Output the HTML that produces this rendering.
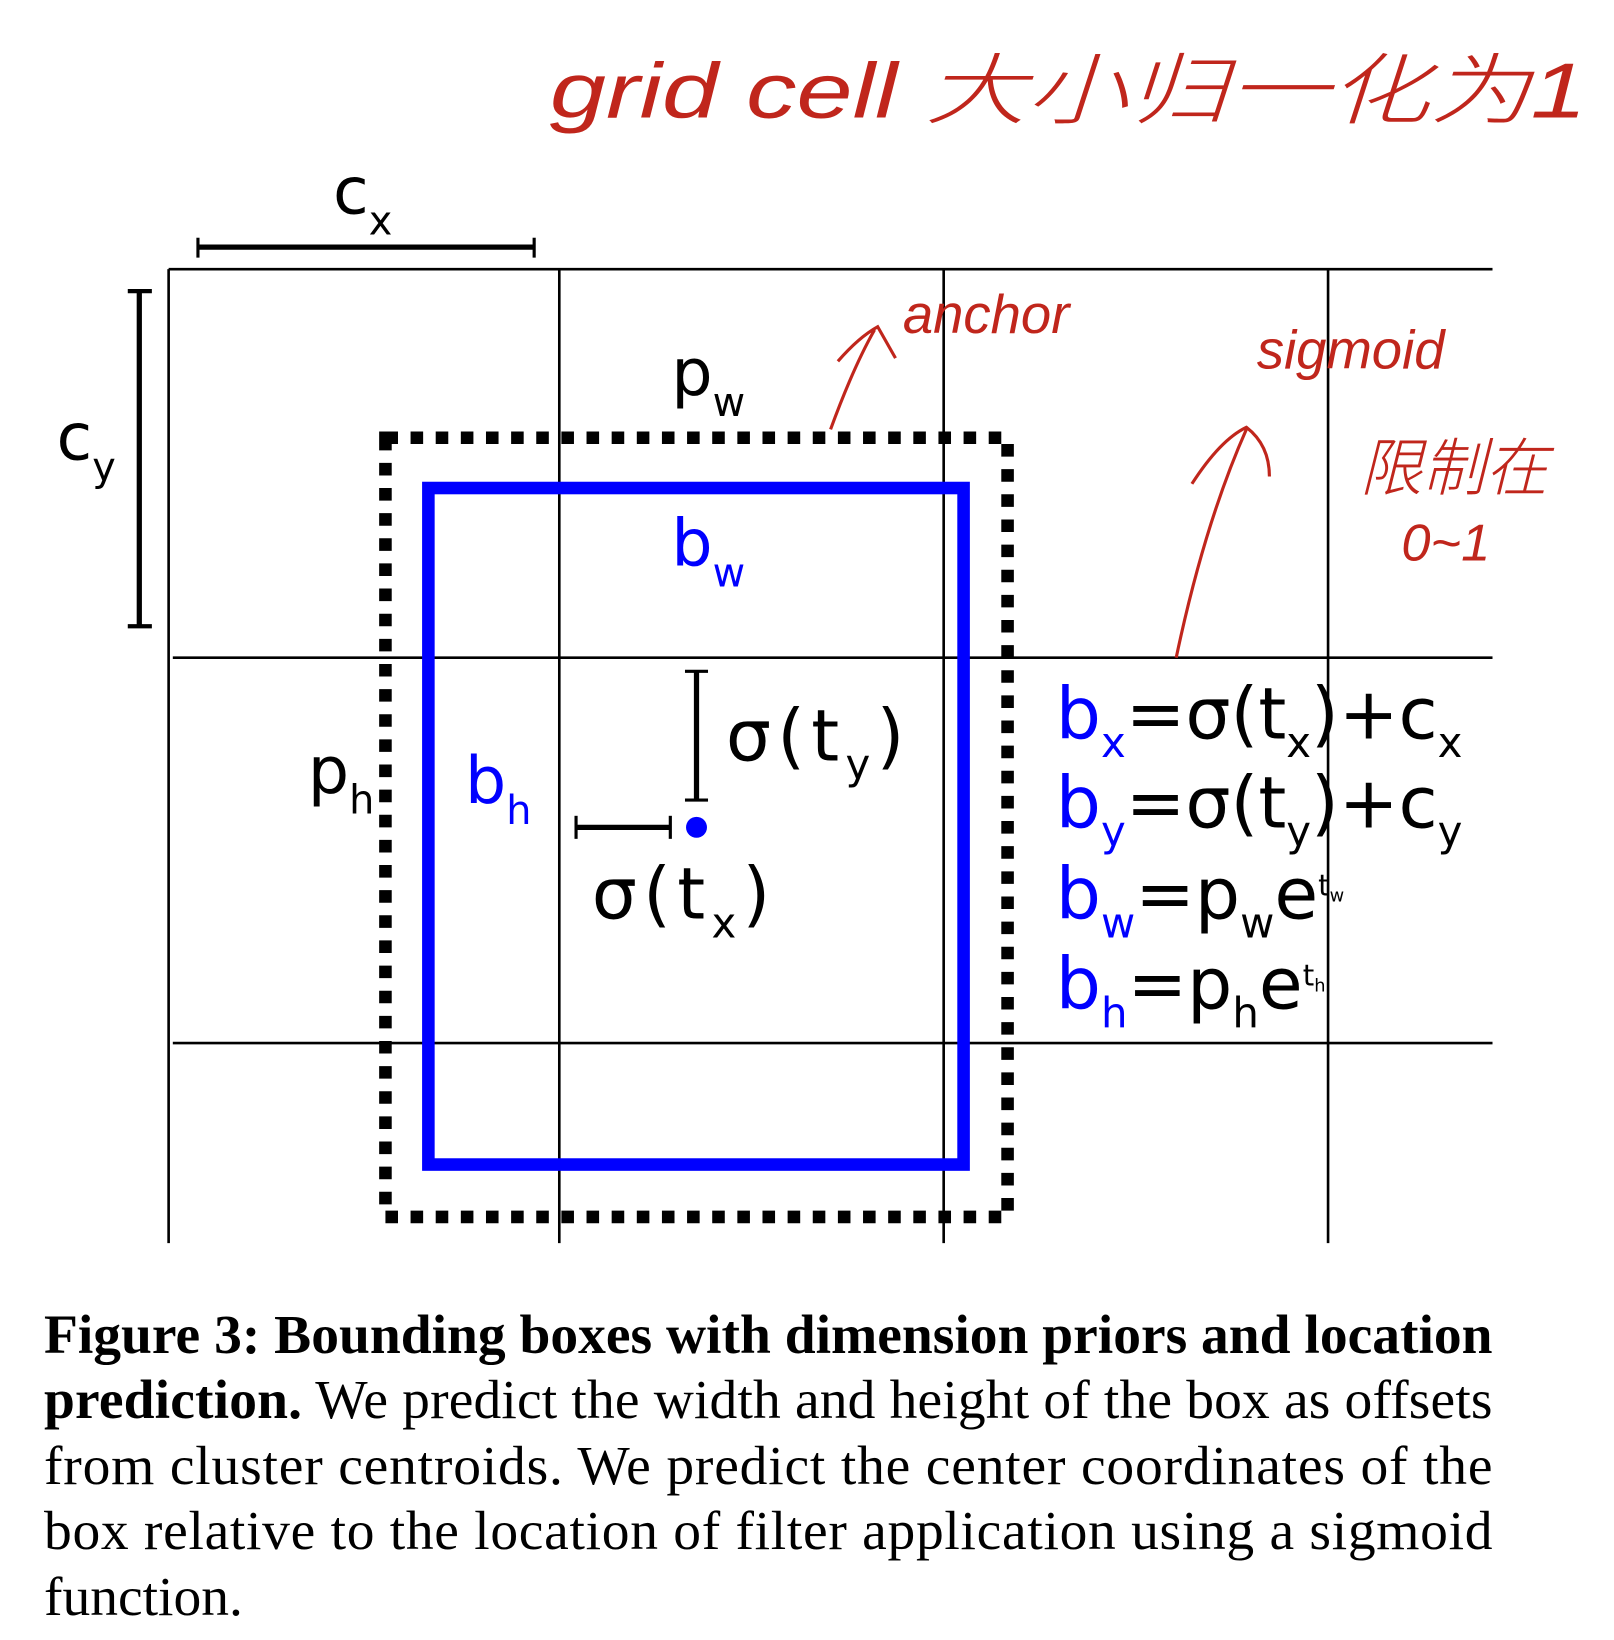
<!DOCTYPE html>
<html><head><meta charset="utf-8"><style>
html,body{margin:0;padding:0;background:#fff;}
svg{display:block;}
.m{font-family:"DejaVu Sans","Liberation Sans",sans-serif;}
.r{font-family:"Liberation Sans","Noto Sans CJK SC",sans-serif;fill:#c0261c;font-style:italic;font-weight:300;}
.c{font-family:"Liberation Serif",serif;font-size:53px;fill:#000;}
</style></head><body>
<svg width="1614" height="1640" viewBox="0 0 1541 1566" preserveAspectRatio="none">
<rect width="1541" height="1566" fill="#fff"/>
<g stroke="#000" stroke-width="2.5">
<line x1="161" y1="257" x2="1425" y2="257"/>
<line x1="165" y1="628" x2="1425" y2="628"/>
<line x1="165" y1="996" x2="1425" y2="996"/>
<line x1="161" y1="257" x2="161" y2="1187"/>
<line x1="534" y1="257" x2="534" y2="1187"/>
<line x1="901" y1="257" x2="901" y2="1187"/>
<line x1="1268" y1="257" x2="1268" y2="1187"/>
</g>
<g stroke="#000">
<line x1="189" y1="236" x2="510" y2="236" stroke-width="5"/>
<line x1="189" y1="227" x2="189" y2="246" stroke-width="3"/>
<line x1="510" y1="227" x2="510" y2="246" stroke-width="3"/>
</g>
<text class="m" x="318" y="204" font-size="62">c<tspan font-size="38" dy="20">x</tspan></text>
<g stroke="#000">
<line x1="133" y1="278" x2="133" y2="598" stroke-width="5"/>
<line x1="122" y1="278" x2="145" y2="278" stroke-width="4"/>
<line x1="122" y1="598" x2="145" y2="598" stroke-width="4"/>
</g>
<text class="m" x="54" y="439" font-size="62">c<tspan font-size="38" dy="20">y</tspan></text>
<rect x="368" y="418" width="594" height="744" fill="none" stroke="#000" stroke-width="12" stroke-dasharray="12 12"/>
<rect x="409" y="466" width="511" height="646" fill="none" stroke="#0000ff" stroke-width="12"/>
<text class="m" x="641" y="377" font-size="62">p<tspan font-size="38" dy="20">w</tspan></text>
<text class="m" x="641" y="540" font-size="62" fill="#0000ff">b<tspan font-size="38" dy="20">w</tspan></text>
<text class="m" x="294" y="757" font-size="62">p<tspan font-size="38" dy="20">h</tspan></text>
<text class="m" x="444" y="767" font-size="62" fill="#0000ff">b<tspan font-size="38" dy="20">h</tspan></text>
<g stroke="#000">
<line x1="665" y1="640" x2="665" y2="765" stroke-width="5"/>
<line x1="654" y1="641" x2="676" y2="641" stroke-width="3"/>
<line x1="654" y1="764" x2="676" y2="764" stroke-width="3"/>
</g>
<text class="m" x="693" y="726" font-size="68" letter-spacing="6">σ(t<tspan font-size="40" dy="18">y</tspan><tspan dy="-18">)</tspan></text>
<g stroke="#000">
<line x1="549" y1="790" x2="641" y2="790" stroke-width="5"/>
<line x1="550" y1="779" x2="550" y2="801" stroke-width="3"/>
<line x1="640" y1="779" x2="640" y2="801" stroke-width="3"/>
</g>
<circle cx="665" cy="790" r="10" fill="#0000ff"/>
<text class="m" x="565" y="877" font-size="68" letter-spacing="6">σ(t<tspan font-size="40" dy="18">x</tspan><tspan dy="-18">)</tspan></text>
<g class="m" font-size="68">
<text x="1008" y="705"><tspan fill="#0000ff">b</tspan><tspan fill="#0000ff" font-size="40" dy="18">x</tspan><tspan dy="-18">=σ(t</tspan><tspan font-size="40" dy="18">x</tspan><tspan dy="-18">)+c</tspan><tspan font-size="40" dy="18">x</tspan></text>
<text x="1008" y="790"><tspan fill="#0000ff">b</tspan><tspan fill="#0000ff" font-size="40" dy="18">y</tspan><tspan dy="-18">=σ(t</tspan><tspan font-size="40" dy="18">y</tspan><tspan dy="-18">)+c</tspan><tspan font-size="40" dy="18">y</tspan></text>
<text x="1008" y="877"><tspan fill="#0000ff">b</tspan><tspan fill="#0000ff" font-size="40" dy="18">w</tspan><tspan dy="-18">=p</tspan><tspan font-size="40" dy="18">w</tspan><tspan dy="-18">e</tspan><tspan font-size="28" dy="-22">t</tspan><tspan font-size="17" dy="6">w</tspan></text>
<text x="1008" y="963"><tspan fill="#0000ff">b</tspan><tspan fill="#0000ff" font-size="40" dy="18">h</tspan><tspan dy="-18">=p</tspan><tspan font-size="40" dy="18">h</tspan><tspan dy="-18">e</tspan><tspan font-size="28" dy="-22">t</tspan><tspan font-size="17" dy="6">h</tspan></text>
</g>
<g>
<text class="r" x="525" y="112" font-size="74" textLength="990" lengthAdjust="spacingAndGlyphs">grid cell 大小归一化为1</text>
<text class="r" x="862" y="318" font-size="52">anchor</text>
<path d="M793 410 Q815 350 835 315 M800 345 Q820 322 838 312 L855 342" fill="none" stroke="#c0261c" stroke-width="3"/>
<text class="r" x="1200" y="352" font-size="52">sigmoid</text>
<text class="r" x="1298" y="468" font-size="60">限制在</text>
<text class="r" x="1338" y="535" font-size="50">0~1</text>
<path d="M1123 628 Q1150 500 1190 410 M1138 462 Q1165 420 1190 408 Q1212 425 1212 455" fill="none" stroke="#c0261c" stroke-width="3"/>
</g>
<g class="c">
<text x="42" y="1292" textLength="1383" lengthAdjust="spacing" font-weight="bold">Figure 3:  Bounding boxes with dimension priors and location</text>
<text x="42" y="1354" textLength="1383" lengthAdjust="spacing"><tspan font-weight="bold">prediction.</tspan> We predict the width and height of the box as offsets</text>
<text x="42" y="1417" textLength="1383" lengthAdjust="spacing">from cluster centroids.  We predict the center coordinates of the</text>
<text x="42" y="1479" textLength="1383" lengthAdjust="spacing">box relative to the location of filter application using a sigmoid</text>
<text x="42" y="1542">function.</text>
</g>
</svg>
</body></html>
